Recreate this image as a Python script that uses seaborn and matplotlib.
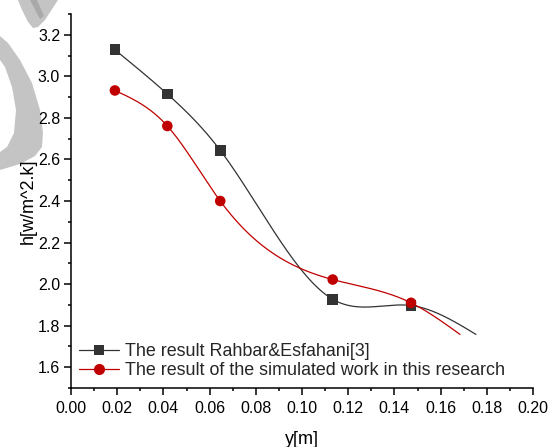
import numpy as np
import pandas as pd
import matplotlib
matplotlib.use("Agg")
import matplotlib.pyplot as plt
from matplotlib.lines import Line2D
from matplotlib.patches import Polygon
import seaborn as sns

# Heat transfer coefficient h along y
y_pos = [0.019, 0.0417, 0.0646, 0.1133, 0.1472]
h_rahbar = [3.128, 2.915, 2.644, 1.927, 1.897]
h_simulated = [2.932, 2.761, 2.400, 2.022, 1.910]

# trailing end points of the smoothed curves (no symbol drawn)
y_end_rahbar, h_end_rahbar = 0.1753, 1.758
y_end_sim, h_end_sim = 0.1684, 1.758

label_rahbar = "The result Rahbar&Esfahani[3]"
label_sim = "The result of the simulated work in this research"


def natural_spline(x, y, n=400):
    x = np.asarray(x, float)
    y = np.asarray(y, float)
    k = len(x)
    hh = np.diff(x)
    A = np.zeros((k, k))
    b = np.zeros(k)
    A[0, 0] = A[-1, -1] = 1.0
    for i in range(1, k - 1):
        A[i, i - 1] = hh[i - 1]
        A[i, i] = 2 * (hh[i - 1] + hh[i])
        A[i, i + 1] = hh[i]
        b[i] = 6 * ((y[i + 1] - y[i]) / hh[i] - (y[i] - y[i - 1]) / hh[i - 1])
    M = np.linalg.solve(A, b)
    xs = np.linspace(x[0], x[-1], n)
    idx = np.clip(np.searchsorted(x, xs) - 1, 0, k - 2)
    x0, x1 = x[idx], x[idx + 1]
    hi = x1 - x0
    t0, t1 = x1 - xs, xs - x0
    ys = (M[idx] * t0 ** 3 + M[idx + 1] * t1 ** 3) / (6 * hi) \
        + (y[idx] / hi - M[idx] * hi / 6) * t0 \
        + (y[idx + 1] / hi - M[idx + 1] * hi / 6) * t1
    return xs, ys


sns.set_theme(style="ticks")
plt.rcParams["font.family"] = ["Liberation Sans", "DejaVu Sans"]
plt.rcParams["axes.linewidth"] = 1.1

black = "#333333"
red = "#c00000"

fig = plt.figure(figsize=(5.49, 4.47), dpi=100)
ax = fig.add_axes([71 / 549, 1 - 388 / 447, 462 / 549, 374 / 447])
ax.patch.set_alpha(0)

# light grey watermark shapes behind the axes
def px(pts):
    return [(x / 549, 1 - y / 447) for x, y in pts]

arc = [(0, 36), (8, 43), (20, 60), (32, 83), (40, 110), (43, 133), (42, 147),
       (35, 156), (20, 164), (0, 170), (0, 152), (7, 147), (14, 133),
       (16, 110), (12, 87), (5, 67), (0, 60)]
bar = [(18, 0), (22, 10), (28, 22), (33, 28), (38, 27), (45, 20), (58, 0)]
stripe = [(30, 0), (37, 0), (44, 16), (40, 19)]
for shape, col in [(arc, "#c4c4c4"), (bar, "#c4c4c4"), (stripe, "#a9a9a9")]:
    fig.patches.append(Polygon(px(shape), closed=True, transform=fig.transFigure,
                               facecolor=col, edgecolor="none", zorder=-5))

xs_r, ys_r = natural_spline(y_pos + [y_end_rahbar], h_rahbar + [h_end_rahbar])
xs_s, ys_s = natural_spline(y_pos + [y_end_sim], h_simulated + [h_end_sim])

curves = pd.concat([
    pd.DataFrame({"y": xs_r, "h": ys_r, "series": label_rahbar}),
    pd.DataFrame({"y": xs_s, "h": ys_s, "series": label_sim}),
])
points = pd.concat([
    pd.DataFrame({"y": y_pos, "h": h_rahbar, "series": label_rahbar}),
    pd.DataFrame({"y": y_pos, "h": h_simulated, "series": label_sim}),
])
palette = {label_rahbar: black, label_sim: red}

sns.lineplot(data=curves, x="y", y="h", hue="series", palette=palette,
             linewidth=0.9, legend=False, ax=ax, sort=False, estimator=None)
sns.scatterplot(data=points, x="y", y="h", hue="series", style="series",
                markers={label_rahbar: "s", label_sim: "o"}, palette=palette,
                s=58, linewidth=0, legend=False, ax=ax, zorder=3)

ax.set_xlim(0, 0.20)
ax.set_ylim(1.5, 3.3)
ax.set_xticks(np.arange(0, 0.2001, 0.02))
ax.set_xticks(np.arange(0.01, 0.2, 0.02), minor=True)
ax.set_yticks(np.arange(1.6, 3.21, 0.2))
ax.set_yticks(np.arange(1.5, 3.31, 0.2), minor=True)
ax.xaxis.set_major_formatter(matplotlib.ticker.FormatStrFormatter("%.2f"))
ax.yaxis.set_major_formatter(matplotlib.ticker.FormatStrFormatter("%.1f"))
ax.tick_params(which="major", length=4.8, width=1.1, labelsize=11.5,
               colors="black", pad=3)
ax.tick_params(axis="x", which="major", pad=4.5)
ax.tick_params(which="minor", length=2.4, width=1.1, colors="black")
for side in ["top", "right"]:
    ax.spines[side].set_visible(False)
for side in ["left", "bottom"]:
    ax.spines[side].set_color("black")

ax.set_xlabel("y[m]", fontsize=13, labelpad=11, color="black")
ax.set_ylabel("h[w/m^2.k]", fontsize=13, labelpad=1, color="black")

handles = [
    Line2D([], [], color=black, linewidth=0.9, marker="s", markersize=7,
           markeredgewidth=0),
    Line2D([], [], color=red, linewidth=0.9, marker="o", markersize=8,
           markeredgewidth=0),
]
ax.legend(handles, [label_rahbar, label_sim], loc="lower left",
          bbox_to_anchor=(0.017, 0.024), frameon=False, fontsize=12.9,
          handlelength=2.23, handletextpad=0.33, labelspacing=0.1,
          borderaxespad=0, borderpad=0)

fig.savefig("out.png", dpi=100)
